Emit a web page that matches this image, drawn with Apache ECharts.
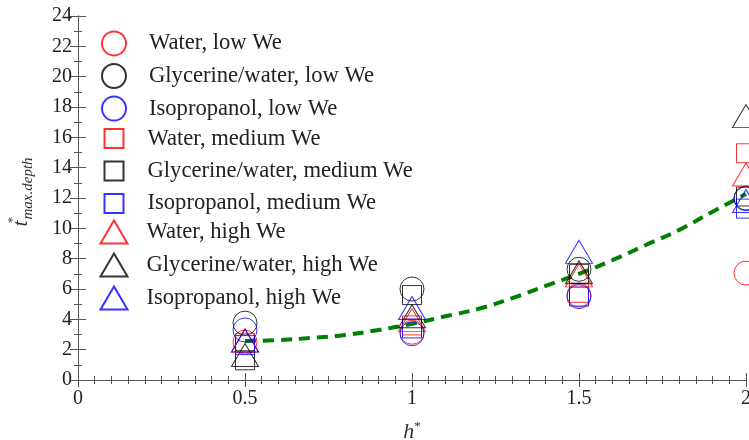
<!DOCTYPE html>
<html>
<head>
<meta charset="utf-8">
<script src="https://cdn.jsdelivr.net/npm/echarts@6/dist/echarts.min.js"></script>
<style>
  html, body { margin: 0; padding: 0; background: #fff; }
  #chart { width: 749px; height: 440px; }
</style>
</head>
<body>
<div id="chart"></div>
<script>
// h* positions of the measurements
const hStar = [0.5, 1, 1.5, 2];

// t*_max.depth, one array per series
const waterLow = [2.5, 3.15, 5.6, 7.05];
const glyLow = [3.75, 6.0, 7.3, 12.0];
const isoLow = [3.3, 3.05, 5.5, 11.95];
const waterMed = [2.45, 3.6, 5.75, 14.95];
const glyMed = [1.3, 5.6, 7.0, 12.1];
const isoMed = [2.3, 3.4, 5.5, 11.3];
const waterHigh = [2.6, 3.95, 6.9, 13.55];
const glyHigh = [1.65, 4.2, 7.1, 17.4];
const isoHigh = [2.6, 4.75, 8.45, 11.8];

// green dashed fit curve
const fitX = [0.5, 0.6, 0.7, 0.8, 0.9, 1.0, 1.1, 1.2, 1.3, 1.4, 1.5, 1.6, 1.7, 1.8, 1.9, 2.0];
const fitY = [2.57, 2.63, 2.78, 2.97, 3.3, 3.7, 4.2, 4.7, 5.4, 6.2, 7.0, 7.9, 8.9, 9.9, 11.1, 12.26];

const circleNames = ["Water, low We", "Glycerine/water, low We", "Isopropanol, low We"];
const squareNames = ["Water, medium We", "Glycerine/water, medium We", "Isopropanol, medium We"];
const triangleNames = ["Water, high We", "Glycerine/water, high We", "Isopropanol, high We"];

const serif = "'Liberation Serif', 'DejaVu Serif', serif";

const chart = echarts.init(document.getElementById("chart"));

const scatter = (name, values, symbol, size, color) => ({
  name: name,
  type: "scatter",
  data: hStar.map((x, i) => [x, values[i]]),
  symbol: symbol,
  symbolSize: size,
  clip: false,
  itemStyle: {
    color: "rgba(0,0,0,0)",
    borderColor: color,
    borderWidth: 1,
  },
  emphasis: { disabled: true },
});

const legendBase = {
  orient: "vertical",
  selectedMode: false,
  padding: 0,
  textStyle: {
    fontFamily: serif,
    fontSize: 22.6,
    color: "#222",
    lineHeight: 24,
  },
};

const tickStyle = { color: "#555", width: 1 };

chart.setOption({
  animation: false,
  grid: {
    left: 78,
    right: 3,
    top: 16,
    bottom: 60,
    outerBoundsMode: "none",
  },
  legend: [
    Object.assign({}, legendBase, {
      data: circleNames,
      left: 101,
      top: 30.4,
      itemWidth: 24,
      itemHeight: 24,
      itemGap: 6.6,
      textStyle: Object.assign({}, legendBase.textStyle, { padding: [0, 0, 0, 18] }),
    }),
    Object.assign({}, legendBase, {
      data: squareNames,
      left: 103.5,
      top: 126.6,
      itemWidth: 19,
      itemHeight: 19,
      itemGap: 8.4,
      textStyle: Object.assign({}, legendBase.textStyle, { padding: [0, 0, 0, 19] }),
    }),
    Object.assign({}, legendBase, {
      data: triangleNames,
      left: 99.5,
      top: 219.4,
      itemWidth: 27,
      itemHeight: 23,
      itemGap: 8.0,
      textStyle: Object.assign({}, legendBase.textStyle, { padding: [0, 0, 0, 14] }),
    }),
  ],
  xAxis: [
    {
      type: "value",
      min: 0,
      max: 2,
      interval: 0.5,
      name: "{i|h}{s|*}",
      nameLocation: "middle",
      nameGap: 40,
      nameTextStyle: {
        rich: {
          i: { fontFamily: serif, fontStyle: "italic", fontSize: 22, color: "#333", lineHeight: 24 },
          s: { fontFamily: serif, fontSize: 13, color: "#333", verticalAlign: "top", lineHeight: 13 },
        },
      },
      axisLine: { lineStyle: tickStyle },
      axisTick: { inside: true, length: 7, lineStyle: tickStyle },
      minorTick: { show: true, splitNumber: 10, length: 4, lineStyle: tickStyle },
      axisLabel: { fontFamily: serif, fontSize: 20, color: "#222", margin: 9 },
      splitLine: { show: false },
    },
    {
      type: "value",
      position: "top",
      min: 0,
      max: 2,
      interval: 0.5,
      axisLine: { lineStyle: tickStyle },
      axisTick: { inside: true, length: 7, lineStyle: tickStyle },
      minorTick: { show: true, splitNumber: 10, length: 4, lineStyle: tickStyle },
      axisLabel: { show: false },
      splitLine: { show: false },
    },
  ],
  yAxis: [
    {
      type: "value",
      min: 0,
      max: 24,
      interval: 2,
      name: "{t|t}{s|*}{d|max.depth}",
      nameLocation: "middle",
      nameRotate: 90,
      nameGap: 42,
      nameTextStyle: {
        padding: [0, 0, 0, 12],
        rich: {
          t: { fontFamily: serif, fontStyle: "italic", fontSize: 22, color: "#333", lineHeight: 30 },
          s: { fontFamily: serif, fontSize: 13, color: "#333", verticalAlign: "top", lineHeight: 13, width: 1 },
          d: { fontFamily: serif, fontStyle: "italic", fontSize: 15, color: "#333", verticalAlign: "bottom", lineHeight: 15 },
        },
      },
      axisLine: { show: true, lineStyle: tickStyle },
      axisTick: { inside: true, length: 8, lineStyle: tickStyle },
      minorTick: { show: true, splitNumber: 2, length: 4, lineStyle: tickStyle },
      axisLabel: { fontFamily: serif, fontSize: 20, color: "#222", margin: 6 },
      splitLine: { show: false },
    },
    {
      type: "value",
      position: "right",
      min: 0,
      max: 24,
      interval: 2,
      axisLine: { show: true, lineStyle: tickStyle },
      axisTick: { inside: true, length: 8, lineStyle: tickStyle },
      minorTick: { show: true, splitNumber: 2, length: 4, lineStyle: tickStyle },
      axisLabel: { show: false },
      splitLine: { show: false },
    },
  ],
  series: [
    {
      name: "fit",
      type: "line",
      data: fitX.map((x, i) => [x, fitY[i]]),
      smooth: true,
      showSymbol: false,
      symbol: "none",
      lineStyle: { color: "#008000", width: 4, type: [11, 7] },
      emphasis: { disabled: true },
      z: 1,
    },
    scatter(circleNames[0], waterLow, "circle", 24, "#ff0000"),
    scatter(circleNames[1], glyLow, "circle", 24, "#000000"),
    scatter(circleNames[2], isoLow, "circle", 24, "#0000ff"),
    scatter(squareNames[0], waterMed, "rect", 19, "#ff0000"),
    scatter(squareNames[1], glyMed, "rect", 19, "#000000"),
    scatter(squareNames[2], isoMed, "rect", 19, "#0000ff"),
    scatter(triangleNames[0], waterHigh, "triangle", [27, 23], "#ff0000"),
    scatter(triangleNames[1], glyHigh, "triangle", [27, 23], "#000000"),
    scatter(triangleNames[2], isoHigh, "triangle", [27, 23], "#0000ff"),
  ],
});

window.addEventListener("resize", () => {
  chart.resize();
});
</script>
</body>
</html>
